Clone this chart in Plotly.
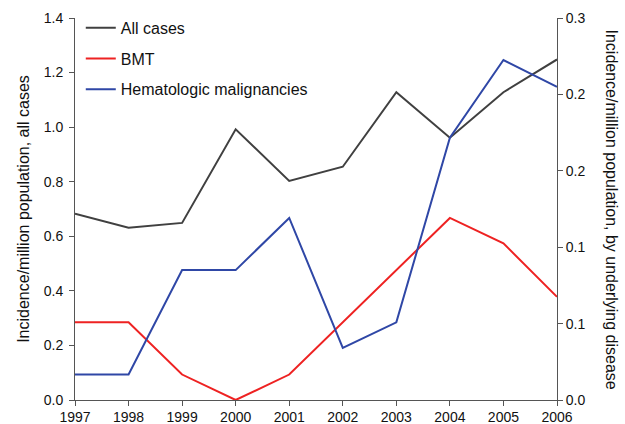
import plotly.graph_objects as go

years = [1997, 1998, 1999, 2000, 2001, 2002, 2003, 2004, 2005, 2006]
all_cases = [0.683, 0.631, 0.649, 0.992, 0.803, 0.855, 1.128, 0.961, 1.128, 1.248]
bmt = [0.061, 0.061, 0.020, 0.0, 0.020, 0.061, 0.102, 0.143, 0.123, 0.081]
hemato = [0.020, 0.020, 0.102, 0.102, 0.143, 0.041, 0.061, 0.206, 0.267, 0.246]

left_ticks = [0.0, 0.2, 0.4, 0.6, 0.8, 1.0, 1.2, 1.4]
right_ticks = [0.0, 0.06, 0.12, 0.18, 0.24, 0.30]

FONT = "Liberation Sans, Arial, sans-serif"
AX = "#555555"

fig = go.Figure()
fig.add_trace(go.Scatter(x=years, y=all_cases, mode="lines", name="All cases",
                         line=dict(color="#404040", width=2), legendgroup="a"))
fig.add_trace(go.Scatter(x=years, y=bmt, mode="lines", name="BMT", yaxis="y2",
                         line=dict(color="#ee2222", width=2), legendgroup="b"))
fig.add_trace(go.Scatter(x=years, y=hemato, mode="lines", name="Hematologic malignancies", yaxis="y2",
                         line=dict(color="#2f47a6", width=2), legendgroup="c"))

fig.update_layout(
    width=625, height=424,
    margin=dict(l=75, r=68, t=18, b=24, autoexpand=False),
    paper_bgcolor="white", plot_bgcolor="white",
    font=dict(family=FONT, size=14, color="#111111"),
    showlegend=True,
    legend=dict(x=0.012, y=1.019, xanchor="left", yanchor="top", bgcolor="rgba(0,0,0,0)",
                font=dict(size=16), traceorder="grouped", tracegroupgap=7, itemwidth=30),
    xaxis=dict(range=[1997, 2006], tickmode="array", tickvals=years, showgrid=False, zeroline=False,
               showline=True, linecolor=AX, ticks="outside", ticklen=5, tickcolor=AX,
               tickfont=dict(size=14), ticklabelstandoff=-1, automargin=False),
    yaxis=dict(range=[0, 1.4], tickmode="array", tickvals=left_ticks,
               ticktext=[f"{v:.1f}" for v in left_ticks], showgrid=False, zeroline=False,
               showline=True, linecolor=AX, ticks="outside", ticklen=5, tickcolor=AX,
               tickfont=dict(size=14), ticklabelstandoff=3, automargin=False,
               title=dict(text="Incidence/million population, all cases", font=dict(size=16), standoff=10)),
    yaxis2=dict(range=[0, 0.3], overlaying="y", side="right", tickmode="array", tickvals=right_ticks,
                ticktext=[f"{v:.1f}" for v in right_ticks], showgrid=False, zeroline=False,
                showline=True, linecolor=AX, ticks="outside", ticklen=5, tickcolor=AX,
                tickfont=dict(size=14), automargin=False),
    annotations=[dict(text="Incidence/million population, by underlying disease", textangle=90,
                      xref="paper", yref="paper", x=1.0, y=0.5, xshift=44, xanchor="left",
                      yanchor="middle", showarrow=False, font=dict(size=16, family=FONT))],
)

fig.write_html("out.html", config={"displayModeBar": False},
               post_script="document.body.style.margin='0';")
